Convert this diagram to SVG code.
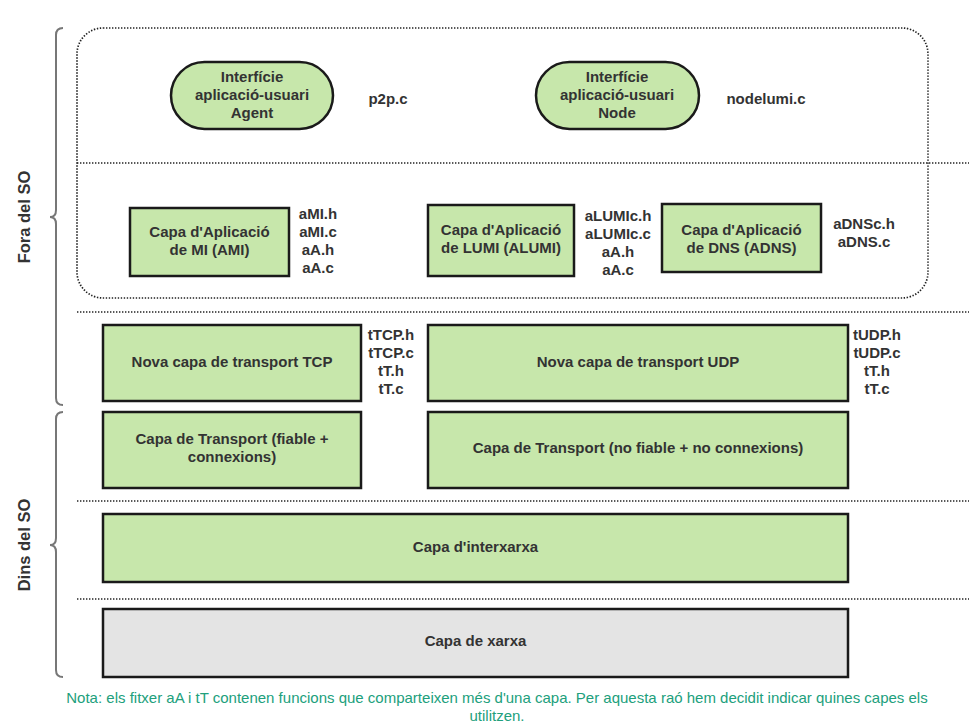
<svg xmlns="http://www.w3.org/2000/svg" width="979" height="728" viewBox="0 0 979 728">
<style>
.bg{fill:#ffffff}
.box{fill:#c7e7ab;stroke:#1a1a1a;stroke-width:2.5}
.grey{fill:#e4e4e4;stroke:#1a1a1a;stroke-width:2.5}
.dot{fill:none;stroke:#222;stroke-width:1.7;stroke-dasharray:1.4 1.6}
.brace{fill:none;stroke:#777;stroke-width:2}
.t{font-family:"Liberation Sans",Arial,sans-serif;font-size:15px;font-weight:bold;fill:#333;text-anchor:middle;dominant-baseline:central}
.side{font-family:"Liberation Sans",Arial,sans-serif;font-size:16.5px;font-weight:bold;fill:#333;text-anchor:middle;dominant-baseline:central}
.note{font-family:"Liberation Sans",Arial,sans-serif;font-size:15px;fill:#21a07c;text-anchor:middle;dominant-baseline:central}
</style>
<rect class="bg" x="0" y="0" width="979" height="728"/>
<g id="separators">
<rect class="dot" x="77" y="28" width="851" height="270" rx="26" ry="26"/>
<line class="dot" x1="77" y1="163" x2="969" y2="163"/>
<line class="dot" x1="77" y1="312" x2="969" y2="312"/>
<line class="dot" x1="77" y1="501" x2="969" y2="501"/>
<line class="dot" x1="77" y1="599" x2="969" y2="599"/>
</g>
<g id="braces">
<path class="brace" d="M63,28 Q56,28 56,35 L56,210 Q56,217 50,217 Q56,217 56,224 L56,398 Q56,405 63,405"/>
<path class="brace" d="M63,412 Q56,412 56,419 L56,538 Q56,545 50,545 Q56,545 56,552 L56,670 Q56,677 63,677"/>
<text class="side" transform="translate(24,217) rotate(-90)">Fora del SO</text>
<text class="side" transform="translate(24,545) rotate(-90)">Dins del SO</text>
</g>
<g id="agent">
<rect class="box" x="171" y="62" width="162" height="67" rx="33.5" ry="33.5"/>
<text class="t" x="252" y="76">Interfície</text>
<text class="t" x="252" y="94">aplicació-usuari</text>
<text class="t" x="252" y="112">Agent</text>
</g>
<g id="p2p"><text class="t" x="388" y="98">p2p.c</text></g>
<g id="node">
<rect class="box" x="536" y="62" width="163" height="67" rx="33.5" ry="33.5"/>
<text class="t" x="617" y="76">Interfície</text>
<text class="t" x="617" y="94">aplicació-usuari</text>
<text class="t" x="617" y="112">Node</text>
</g>
<g id="nodelumi"><text class="t" x="766" y="98">nodelumi.c</text></g>
<g id="ami">
<rect class="box" x="130" y="208" width="159" height="68"/>
<text class="t" x="209.5" y="231">Capa d'Aplicació</text>
<text class="t" x="209.5" y="249">de MI (AMI)</text>
</g>
<g id="ami-files">
<text class="t" x="318" y="213">aMI.h</text>
<text class="t" x="318" y="231">aMI.c</text>
<text class="t" x="318" y="249">aA.h</text>
<text class="t" x="318" y="267">aA.c</text>
</g>
<g id="alumi">
<rect class="box" x="428" y="205" width="146" height="71"/>
<text class="t" x="501" y="229">Capa d'Aplicació</text>
<text class="t" x="501" y="247">de LUMI (ALUMI)</text>
</g>
<g id="alumi-files">
<text class="t" x="618" y="215">aLUMIc.h</text>
<text class="t" x="618" y="233">aLUMIc.c</text>
<text class="t" x="618" y="251">aA.h</text>
<text class="t" x="618" y="269">aA.c</text>
</g>
<g id="adns">
<rect class="box" x="662" y="204" width="159" height="68"/>
<text class="t" x="741.5" y="229">Capa d'Aplicació</text>
<text class="t" x="741.5" y="247">de DNS (ADNS)</text>
</g>
<g id="adns-files">
<text class="t" x="864" y="223">aDNSc.h</text>
<text class="t" x="864" y="241">aDNS.c</text>
</g>
<g id="tcp-new">
<rect class="box" x="103" y="325" width="258" height="76"/>
<text class="t" x="232" y="361">Nova capa de transport TCP</text>
</g>
<g id="tcp-files">
<text class="t" x="391" y="334">tTCP.h</text>
<text class="t" x="391" y="352">tTCP.c</text>
<text class="t" x="391" y="370">tT.h</text>
<text class="t" x="391" y="388">tT.c</text>
</g>
<g id="udp-new">
<rect class="box" x="428" y="325" width="420" height="76"/>
<text class="t" x="638" y="361">Nova capa de transport UDP</text>
</g>
<g id="udp-files">
<text class="t" x="877" y="334">tUDP.h</text>
<text class="t" x="877" y="352">tUDP.c</text>
<text class="t" x="877" y="370">tT.h</text>
<text class="t" x="877" y="388">tT.c</text>
</g>
<g id="tcp">
<rect class="box" x="103" y="412" width="258" height="76"/>
<text class="t" x="232" y="438">Capa de Transport (fiable +</text>
<text class="t" x="232" y="456">connexions)</text>
</g>
<g id="udp">
<rect class="box" x="428" y="412" width="420" height="76"/>
<text class="t" x="638" y="447">Capa de Transport (no fiable + no connexions)</text>
</g>
<g id="interxarxa">
<rect class="box" x="103" y="514" width="745" height="68"/>
<text class="t" x="475.5" y="546">Capa d'interxarxa</text>
</g>
<g id="xarxa">
<rect class="grey" x="103" y="609" width="745" height="68"/>
<text class="t" x="475.5" y="640">Capa de xarxa</text>
</g>
<g id="note">
<text class="note" x="497" y="697">Nota: els fitxer aA i tT contenen funcions que comparteixen més d'una capa. Per aquesta raó hem decidit indicar quines capes els</text>
<text class="note" x="497" y="715">utilitzen.</text>
</g>
<g id="connectors"></g>
</svg>
